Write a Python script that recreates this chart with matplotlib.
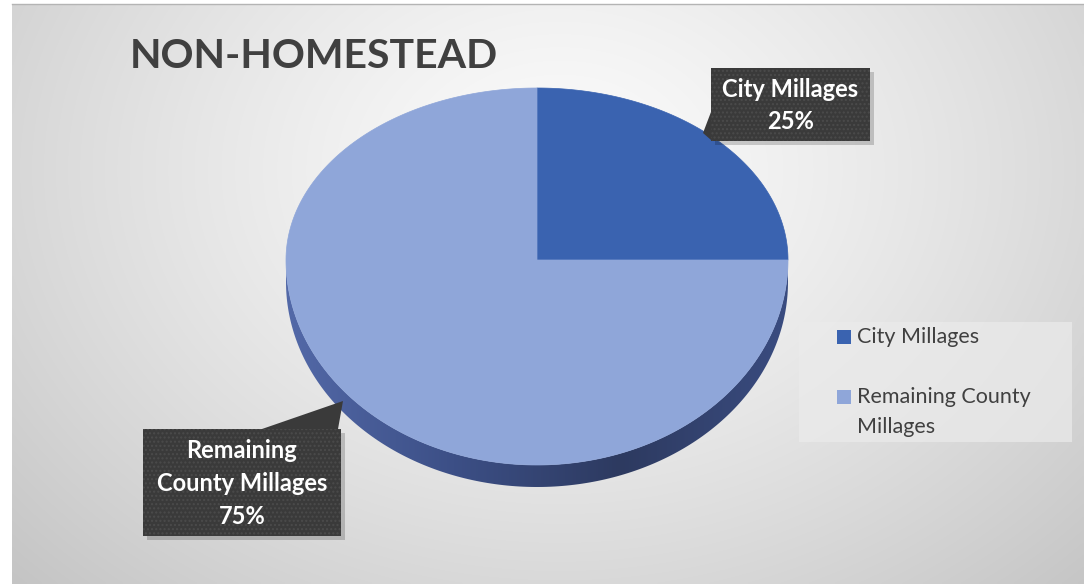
import numpy as np
import matplotlib
matplotlib.use("Agg")
import matplotlib.pyplot as plt
from matplotlib.patches import Polygon, Rectangle

plt.rcParams['font.family'] = ['Lato', 'DejaVu Sans']

# ── data ───────────────────────────────────────────────────────────────────────
title       = "NON-HOMESTEAD"
categories  = ["City Millages", "Remaining County Millages"]
values      = [25, 75]
colors      = ["#3a63b0", "#8fa6d9"]
callout_txt = ["City Millages", "Remaining\nCounty Millages"]
legend_txt  = ["City Millages", "Remaining County\nMillages"]

# ── canvas (pixel-like coordinates) ───────────────────────────────────────────
W, H = 1084, 584
fig = plt.figure(figsize=(W / 100, H / 100), dpi=100)
ax = fig.add_axes([0, 0, 1, 1])
ax.set_xlim(0, W)
ax.set_ylim(H, 0)
ax.axis("off")

# radial grey background
gx, gy = np.meshgrid(np.linspace(12, W, 400), np.linspace(4, H, 220))
d = np.sqrt(((gx - 560) / 720) ** 2 + ((gy - 170) / 560) ** 2)
shade = np.clip(0.985 - 0.2 * d ** 1.3, 0.76, 0.985)
ax.imshow(np.dstack([shade] * 3), extent=(12, W, H, 4), aspect="auto",
          interpolation="bilinear", zorder=0)
ax.plot([12, W], [3.5, 3.5], color="#b4b4b4", lw=1, zorder=1)

ax.text(130, 56, title, fontsize=29.5, fontweight="bold", color="#404040",
        va="center", ha="left", zorder=5)

# ── 3-D style pie ──────────────────────────────────────────────────────────────
cx, cy = 537, 260
rx, r_up, r_dn, depth = 251, 172, 205, 22

def rim(theta_deg):
    t = np.radians(theta_deg)
    s = np.sin(t)
    r = np.where(s >= 0, r_up, r_dn)
    return cx + rx * np.cos(t), cy - r * s

# side wall along the front half
th = np.linspace(180, 360, 200)
sx, sy = rim(th)
side_pts = np.column_stack([np.r_[sx, sx[::-1]], np.r_[sy, sy[::-1] + depth]])
side = Polygon(side_pts, closed=True, facecolor="none", edgecolor="none", zorder=2)
ax.add_patch(side)
grad = np.linspace(0, 1, 256)[None, :]
side_cmap = matplotlib.colors.LinearSegmentedColormap.from_list(
    "side", ["#5369a8", "#3c4f86", "#2d3a60", "#3a4c80"])
im = ax.imshow(grad, cmap=side_cmap, extent=(cx - rx, cx + rx, cy + r_dn + depth, cy),
               aspect="auto", zorder=2)
im.set_clip_path(side)

# top face wedges, clockwise from 12 o'clock
start = 90.0
for val, col in zip(values, colors):
    end = start - 360.0 * val / sum(values)
    a = np.linspace(start, end, 300)
    wx, wy = rim(a)
    pts = np.column_stack([np.r_[cx, wx], np.r_[cy, wy]])
    ax.add_patch(Polygon(pts, closed=True, facecolor=col, edgecolor=col,
                         lw=0.5, zorder=3))
    start = end

# ── callouts ───────────────────────────────────────────────────────────────────
boxes = [
    # x0, y0, x1, y1, pointer polygon
    (711, 68, 870, 141, [(711, 112), (703, 133), (711, 140)]),
    (143, 429, 341, 536, [(262, 429), (343, 401), (338, 429)]),
]
for (x0, y0, x1, y1, ptr), txt, val in zip(boxes, callout_txt, values):
    ax.add_patch(Rectangle((x0 + 4, y0 + 4), x1 - x0, y1 - y0, facecolor="#000000",
                           alpha=0.18, edgecolor="none", zorder=6))
    ax.add_patch(Polygon(ptr, closed=True, facecolor="#3a3a3a", edgecolor="none", zorder=7))
    ax.add_patch(Rectangle((x0, y0), x1 - x0, y1 - y0, facecolor="#3a3a3a",
                           edgecolor="none", zorder=7))
    ax.add_patch(Rectangle((x0, y0), x1 - x0, y1 - y0, facecolor="none",
                           edgecolor="#4b4b4b", hatch="....", lw=0, zorder=7))
    ax.text((x0 + x1) / 2, (y0 + y1) / 2 + 1, f"{txt}\n{val}%", color="white",
            fontsize=17, fontweight="bold", ha="center", va="center",
            linespacing=1.5, zorder=8)

# ── legend ─────────────────────────────────────────────────────────────────────
ax.add_patch(Rectangle((799, 322), 273, 120, facecolor="#ebebeb", alpha=0.7,
                       edgecolor="none", zorder=4))
leg_y = [337, 397]
for yy, col, txt in zip(leg_y, colors, legend_txt):
    ax.add_patch(Rectangle((837, yy - 7), 14, 14, facecolor=col, edgecolor="none", zorder=5))
    ax.text(857, yy - 10, txt, fontsize=15.5, color="#404040", ha="left", va="top",
            linespacing=1.6, zorder=5)

fig.savefig("out.png", dpi=100)
